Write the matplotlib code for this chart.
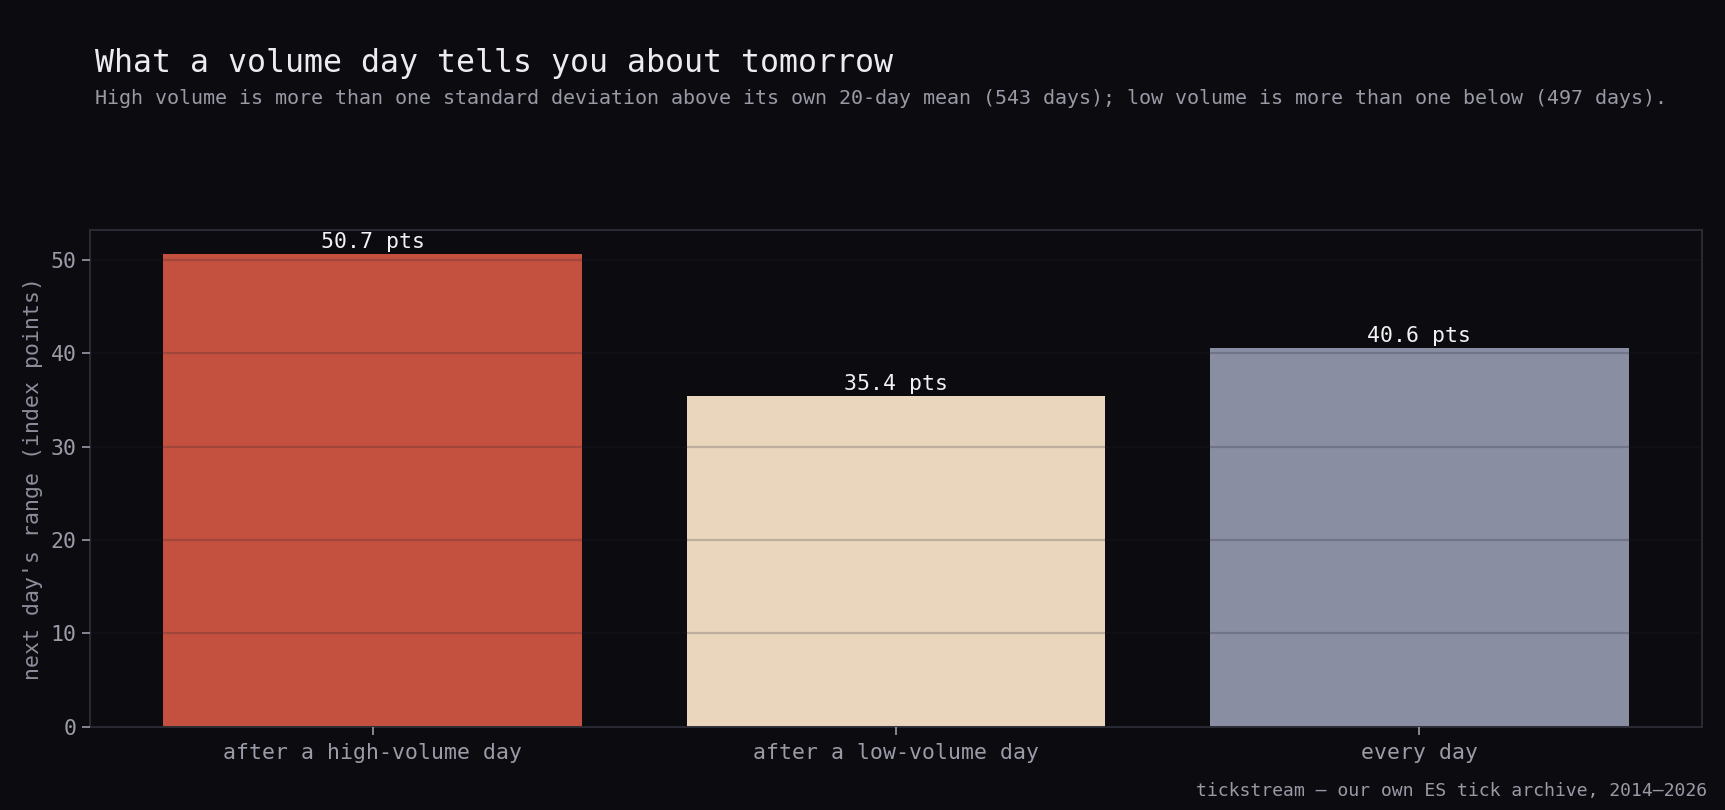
import matplotlib
matplotlib.use("Agg")
import matplotlib.pyplot as plt

categories = ["after a high-volume day", "after a low-volume day", "every day"]
values = [50.7, 35.4, 40.6]
bar_colors = ["#c4513f", "#ead5bd", "#8a8ea3"]
value_labels = ["50.7 pts", "35.4 pts", "40.6 pts"]

BG = "#0b0b10"
MONO = ["DejaVu Sans Mono"]

fig = plt.figure(figsize=(17.25, 8.1), dpi=100, facecolor=BG)
ax = fig.add_axes([0.0522, 0.1030, 0.9345, 0.6130])
ax.set_facecolor(BG)

x = list(range(len(categories)))
bars = ax.bar(x, values, width=0.8, color=bar_colors, zorder=2)

ax.grid(axis="y", color="#20202a", alpha=0.22, linewidth=1.6, zorder=3)
ax.set_axisbelow(False)
for gl in ax.get_ygridlines():
    gl.set_zorder(3)

for xi, v, lab in zip(x, values, value_labels):
    ax.annotate(lab, (xi, v), xytext=(0, 1.5), textcoords="offset points",
                ha="center", va="bottom", color="#f2f2f4", fontsize=15.5,
                family=MONO, zorder=4)

ax.set_xticks(x)
ax.set_xticklabels(categories, family=MONO, fontsize=15.5, color="#9b9ca8")
ax.set_yticks([0, 10, 20, 30, 40, 50])
for t in ax.get_yticklabels():
    t.set_family(MONO)
    t.set_fontsize(15.5)
    t.set_color("#9b9ca8")
ax.tick_params(axis="both", colors="#9b9ca8", length=6, width=1.2)
ax.tick_params(axis="x", pad=5.5)

ax.set_ylabel("next day's range (index points)", family=MONO, fontsize=15.5,
              color="#8d8e9b", labelpad=6)

for s in ax.spines.values():
    s.set_color("#2e2e38")
    s.set_linewidth(1.3)

fig.text(0.055, 0.921, "What a volume day tells you about tomorrow",
         family=MONO, fontsize=22.8, color="#ececf0", ha="left", va="center")
fig.text(0.055, 0.879,
         "High volume is more than one standard deviation above its own 20-day mean (543 days); "
         "low volume is more than one below (497 days).",
         family=MONO, fontsize=14.4, color="#9a9aa6", ha="left", va="center")
fig.text(0.9895, 0.0235, "tickstream \u2014 our own ES tick archive, 2014\u20132026",
         family=MONO, fontsize=13.05, color="#9a9aa6", ha="right", va="center")

fig.savefig("out.png", dpi=100, facecolor=BG)
